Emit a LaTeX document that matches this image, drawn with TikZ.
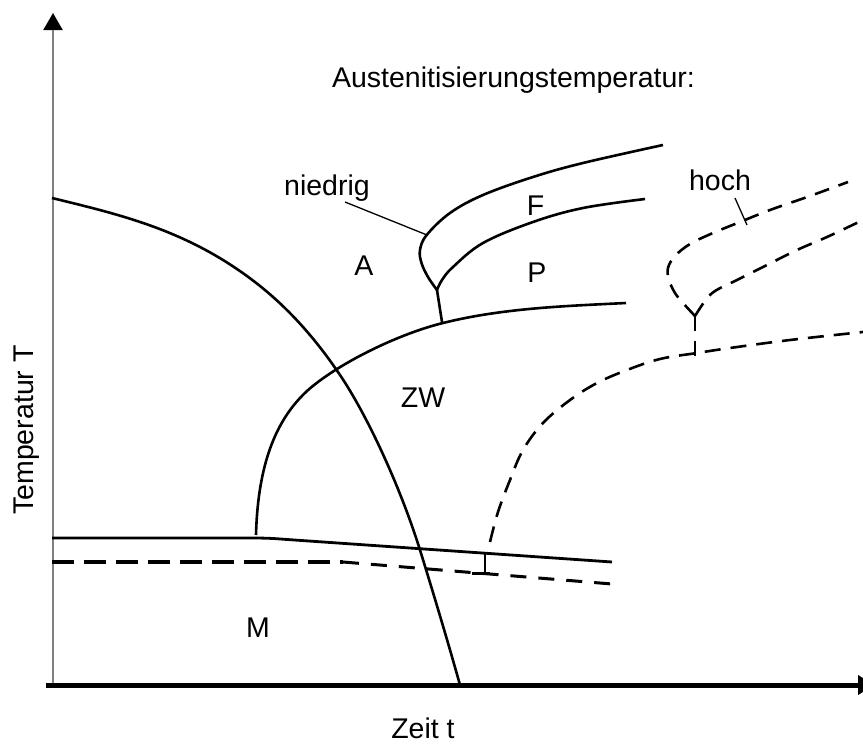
\documentclass[tikz,border=0pt]{standalone}
\usepackage{fontspec}
\setmainfont{Liberation Sans}
\usetikzlibrary{arrows.meta}
\begin{document}
\begin{tikzpicture}[x=1pt,y=-1pt,
  curve/.style={line width=2.6pt, line join=round},
  dcurve/.style={line width=2.6pt, dash pattern=on 15pt off 10pt},
  lead/.style={line width=1.3pt},
  lbl/.style={font=\fontsize{28.5}{34}\selectfont, anchor=base, inner sep=0pt}]
\useasboundingbox (0,0) rectangle (863,744);
% axes
\coordinate (o) at (53,685);
\coordinate (ytop) at (53,13);
\coordinate (xl) at (46,685);
\coordinate (xr) at (874,685);
\draw[line width=2pt, black!50, -{Triangle[length=17pt,width=19pt,color=black]}] (o) -- (ytop);
\draw[line width=5pt, -{Triangle[length=16pt,width=19pt]}] (xl) -- (xr);
% labels
\node[lbl] (title) at (513.5,87) {Austenitisierungstemperatur:};
\node[lbl] (xlab) at (423,738) {Zeit t};
\node[lbl, rotate=90] (ylab) at (34,430) {Temperatur T};
\node[lbl] (lA) at (364,275) {A};
\node[lbl] (lF) at (535.5,215) {F};
\node[lbl] (lP) at (537,282) {P};
\node[lbl] (lZW) at (423,407) {ZW};
\node[lbl] (lM) at (258,637) {M};
\node[lbl] (nied) at (327,195) {niedrig};
\node[lbl] (hoch) at (720,190) {hoch};
% cooling curve
\draw[curve] (52,198) .. controls (109,212) and (166,225) .. (223,260)
  .. controls (262,284) and (301,317) .. (340,375)
  .. controls (367,415) and (400,486) .. (420,550)
  .. controls (433,592) and (448,642) .. (460,685);
% Ms lines
\draw[line width=2.8pt] (52,538) -- (250,538) .. controls (270,538) and (275,538.6) .. (290,539.7) -- (612,562);
\draw[line width=4pt, dash pattern=on 22pt off 10pt] (52,562) -- (343,562);
\draw[line width=3pt, dash pattern=on 16pt off 12pt] (343,562) -- (612,584);
% low austenitization: ZW, stem, F, P
\coordinate (pj) at (437,290);
\coordinate (pb) at (442,322);
\draw[curve] (256,535) .. controls (258,460) and (278,418) .. (307,391)
  .. controls (337,364) and (398,334) .. (443,323)
  .. controls (503,308) and (566,306) .. (626,303);
\draw[curve] (pb) -- (pj);
\draw[curve] plot[smooth, tension=0.6] coordinates {(437,290)(428,277)(421.5,263)(420,250)(426.7,235)(450,213)(483,195)(533,177)(583,163)(663,145)};
\draw[curve] plot[smooth, tension=0.6] coordinates {(437,290)(442,280)(453,267)(483,243)(533,222)(583,208)(645,199)};
\coordinate (nl) at (427,235);
\draw[lead] (345,202) -- (nl);
% high austenitization (dashed)
\coordinate (hj) at (695,316);
\draw[dcurve] plot[smooth, tension=0.6] coordinates {(695,316)(683,303)(675,293)(669,280)(668,268)(675,256)(690,244)(713,233)(740,222)(770,210)(810,196)(848,182)};
\draw[dcurve] plot[smooth, tension=0.6] coordinates {(695,316)(705,301)(715,291)(737,280)(767,265)(797,250)(827,237)(863,220)};
\draw[dcurve] (hj) -- (695,358);
\draw[dcurve, dash pattern=on 16pt off 10pt] plot[smooth, tension=0.6] coordinates {(490,542)(498,512)(510,480)(523,450)(543,423)(570,400)(597,383)(627,370)(660,359)(697,353)(730,348)(790,340)(863,332)};
\draw[lead] (735,198) -- (747,225);
% inverted T at Ms
\draw[line width=2.4pt] (485,553) -- (485,573);
\draw[line width=3pt] (472,573) -- (490,573);
\end{tikzpicture}
\end{document}
